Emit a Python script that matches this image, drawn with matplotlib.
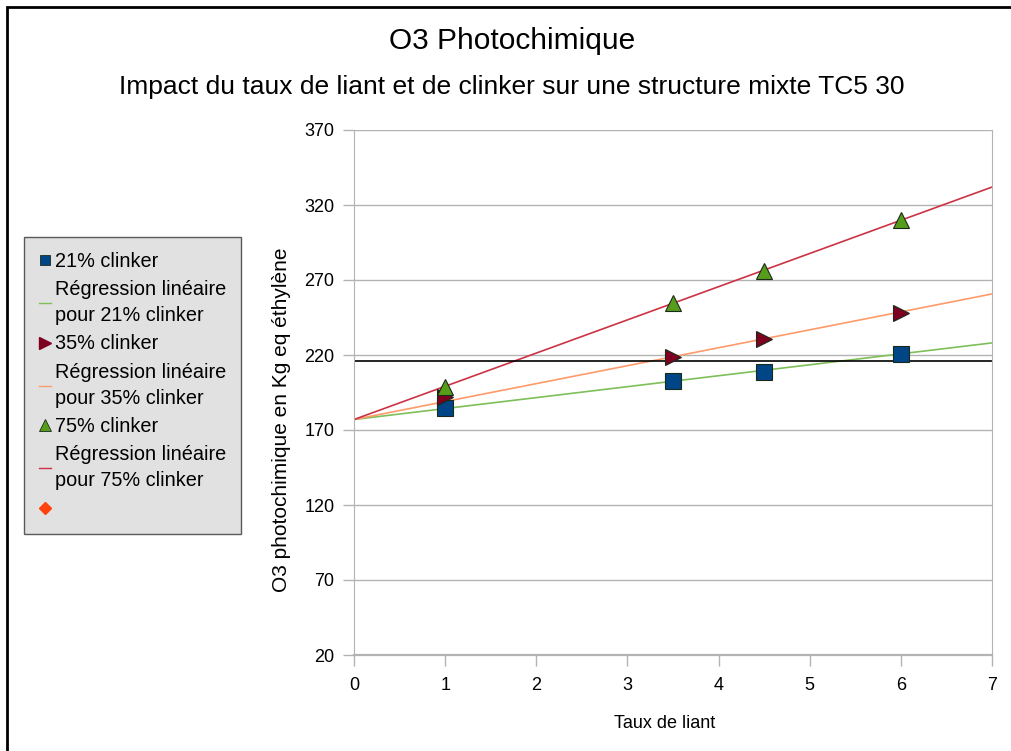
import matplotlib.pyplot as plt
import numpy as np
from matplotlib.lines import Line2D
from matplotlib.patches import Rectangle

plt.rcParams["font.family"] = ["Liberation Sans", "DejaVu Sans"]

# data
taux_liant = np.array([1, 3.5, 4.5, 6])
o3_21 = np.array([185, 203, 209, 221])
o3_35 = np.array([192, 219, 231, 248])
o3_75 = np.array([199, 255, 276, 310])
intercept = 177  # regression forced through this value at x = 0
seuil = 216
y_ticks = [20, 70, 120, 170, 220, 270, 320, 370]
x_ticks = [0, 1, 2, 3, 4, 5, 6, 7]


def fixed_intercept_slope(x, y, c):
    return np.sum(x * (y - c)) / np.sum(x * x)


fig = plt.figure(figsize=(10.12, 7.51), dpi=100)
ax = fig.add_axes([354 / 1012, 1 - 655 / 751, 638 / 1012, 525 / 751])

x_line = np.array([0, 7])
series = [
    (o3_21, "s", "#004586", "#7fbf5a", 11),
    (o3_35, ">", "#7e0021", "#ff9a6a", 12),
    (o3_75, "^", "#579d1c", "#cc3344", 12),
]
for values, marker, color, line_color, size in series:
    slope = fixed_intercept_slope(taux_liant, values, intercept)
    ax.plot(x_line, intercept + slope * x_line, color=line_color, lw=1.2, zorder=2)
for values, marker, color, line_color, size in series:
    ax.plot(taux_liant, values, ls="none", marker=marker, ms=size,
            mfc=color, mec="#1a2a1a", mew=0.8, zorder=3)

ax.plot([0, 7], [seuil, seuil], color="black", lw=1.2, zorder=2)

ax.set_xlim(0, 7)
ax.set_ylim(20, 370)
ax.set_xticks(x_ticks)
ax.set_yticks(y_ticks)
ax.grid(axis="y", color="#b3b3b3", lw=1)
ax.set_axisbelow(True)
ax.spines["top"].set_visible(False)
for side in ["left", "right", "bottom"]:
    ax.spines[side].set_color("#b3b3b3")
ax.spines["bottom"].set_linewidth(1.6)
ax.tick_params(axis="both", colors="#b3b3b3", labelcolor="black", labelsize=13, length=8, width=1)
ax.tick_params(axis="x", pad=8)
ax.tick_params(axis="y", pad=6)

ax.set_xlabel("Taux de liant", fontsize=13)
ax.set_ylabel("O3 photochimique en Kg eq éthylène", fontsize=15)
ax.xaxis.set_label_coords(0.4875, -0.114)
ax.yaxis.set_label_coords(-0.099, 0.448)

fig.text(512 / 1012, 1 - 41 / 751, "O3 Photochimique", ha="center", va="center", fontsize=21.5)
fig.text(512 / 1012, 1 - 87 / 751,
         "Impact du taux de liant et de clinker sur une structure mixte TC5 30",
         ha="center", va="center", fontsize=19)

handles = [
    Line2D([], [], ls="none", marker="s", ms=7, mfc="#004586", mec="#1a2a1a", mew=0.6),
    Line2D([], [], color="#7fbf5a", lw=1),
    Line2D([], [], ls="none", marker=">", ms=8, mfc="#7e0021", mec="#7e0021"),
    Line2D([], [], color="#ff9a6a", lw=1),
    Line2D([], [], ls="none", marker="^", ms=8, mfc="#579d1c", mec="#1a2a1a", mew=0.6),
    Line2D([], [], color="#cc3344", lw=1),
    Line2D([], [], ls="none", marker="D", ms=6, mfc="#ff420e", mec="#ff420e"),
]
labels = [
    "21% clinker",
    "Régression linéaire\npour 21% clinker",
    "35% clinker",
    "Régression linéaire\npour 35% clinker",
    "75% clinker",
    "Régression linéaire\npour 75% clinker",
    " ",
]
leg = fig.legend(handles, labels, loc="upper left", bbox_to_anchor=(24 / 1012, 1 - 237 / 751),
                 fontsize=14.3, frameon=True, fancybox=False, facecolor="#dadada",
                 edgecolor="#333333", handlelength=0.6, handletextpad=0.2,
                 borderpad=0.75, labelspacing=0.47, borderaxespad=0)
leg.get_frame().set_linewidth(1)
for txt in leg.get_texts():
    txt.set_linespacing(1.46)

fig.patches.append(Rectangle((7 / 1012, -0.1), 1.2, 1 - 7 / 751 + 0.1, transform=fig.transFigure,
                             fill=False, edgecolor="black", lw=2))

fig.savefig("out.png", dpi=100)
